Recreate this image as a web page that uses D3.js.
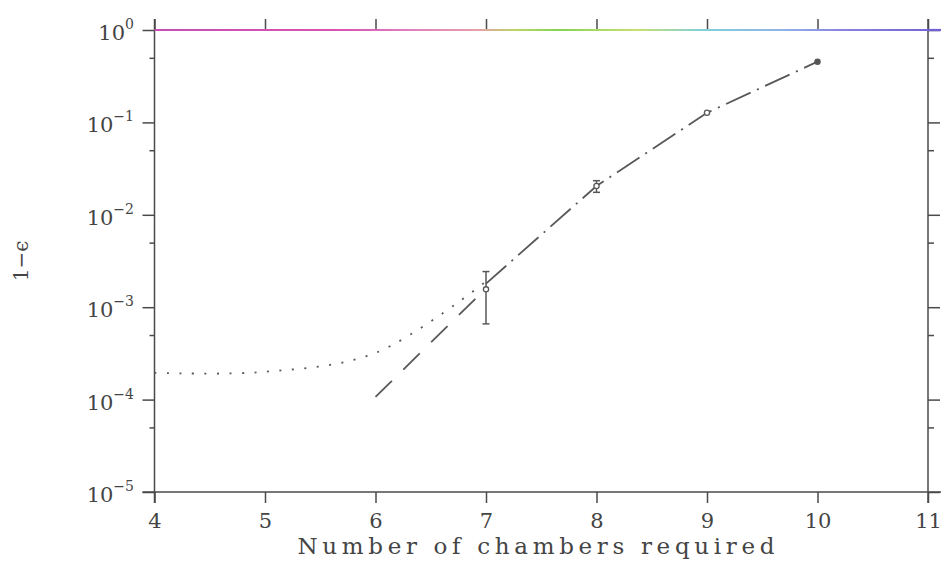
<!DOCTYPE html>
<html><head><meta charset="utf-8">
<script src="https://cdn.jsdelivr.net/npm/d3@7"></script>
<style>body{margin:0;background:#fff}svg{display:block}</style>
</head><body>
<script>
// ---- data ----
const xTicks = [4,5,6,7,8,9,10,11];
const yTickExps = [0,-1,-2,-3,-4,-5];
// dotted curve
const dottedX = [4,5,6,7];
const dottedY = [1.95e-4,2.0e-4,3.2e-4,1.9e-3];
// long dashed line
const dashedX = [6,7];
const dashedY = [1.07e-4,1.6e-3];
// dash-dot line
const dashDotX = [7,8,9,10];
const dashDotY = [1.8e-3,2.05e-2,0.127,0.454];
// measured points with errors
const ptX = [7,8,9,10];
const ptY = [1.56e-3,2.05e-2,0.127,0.454];
const ptLo = [6.6e-4,1.75e-2,0.127,0.454];
const ptHi = [2.43e-3,2.34e-2,0.127,0.454];
const ptFilled = [false,false,false,true];
// reference line at 1
const refX = [4,11];
const refY = [1,1];

const W=941,H=563;
const L=154.5,R=928,T=30,B=492;
const svg=d3.select("body").append("svg").attr("width",W).attr("height",H);
const x=d3.scaleLinear().domain([4,11]).range([L,R]);
const y=d3.scaleLog().domain([1e-5,1]).range([B,T]);
const axisCol="#4a4a4a", lineCol="#585858";
const font="DejaVu Serif";

// gradient for the top line
const defs=svg.append("defs");
const g=defs.append("linearGradient").attr("id","rainbow").attr("gradientUnits","userSpaceOnUse")
  .attr("x1",142).attr("x2",941).attr("y1",0).attr("y2",0);
[[0,"#c84cb4"],[0.25,"#d854b0"],[0.33,"#e07cc0"],[0.42,"#e6a0a8"],[0.47,"#b8d860"],[0.52,"#84d450"],
 [0.62,"#c8e070"],[0.7,"#80d0d8"],[0.8,"#90b4e8"],[0.88,"#8a80e0"],[1,"#7060d8"]]
 .forEach(([o,c])=>g.append("stop").attr("offset",o).attr("stop-color",c));

// axes frame
const ax=svg.append("g").attr("stroke",axisCol).attr("stroke-width",1.5).attr("fill","none");
ax.append("line").attr("x1",L).attr("x2",L).attr("y1",T-11).attr("y2",B+11);
ax.append("line").attr("x1",R).attr("x2",R).attr("y1",T-11).attr("y2",B+11);
ax.append("line").attr("x1",L-12).attr("x2",W).attr("y1",B).attr("y2",B);

// bottom axis via d3
const xAxisB=d3.axisBottom(x).tickValues(xTicks).tickSize(11).tickFormat(d3.format("d"));
const gb=svg.append("g").attr("transform",`translate(0,${B})`).call(xAxisB);
gb.select(".domain").remove();
gb.selectAll(".tick line").attr("stroke",axisCol).attr("stroke-width",1.5);
gb.selectAll(".tick text").attr("font-family",font).attr("font-size",21).attr("fill","#444").attr("dy","1.05em");
const gt=svg.append("g").attr("transform",`translate(0,${T})`).call(d3.axisTop(x).tickValues(xTicks).tickSize(11).tickFormat(""));
gt.select(".domain").remove();
gt.selectAll(".tick line").attr("stroke",axisCol).attr("stroke-width",1.5);

// y ticks
const majors=yTickExps.map(e=>Math.pow(10,e));
const minors=yTickExps.slice(1).map(e=>5*Math.pow(10,e));
const gl=svg.append("g").attr("transform",`translate(${L},0)`).call(d3.axisLeft(y).tickValues(majors).tickSize(12).tickFormat(""));
gl.select(".domain").remove();
const glm=svg.append("g").attr("transform",`translate(${L},0)`).call(d3.axisLeft(y).tickValues(minors).tickSize(5).tickFormat(""));
glm.select(".domain").remove();
const gr=svg.append("g").attr("transform",`translate(${R},0)`).call(d3.axisRight(y).tickValues(majors).tickSize(12).tickFormat(""));
gr.select(".domain").remove();
const grm=svg.append("g").attr("transform",`translate(${R},0)`).call(d3.axisRight(y).tickValues(minors).tickSize(6).tickFormat(""));
grm.select(".domain").remove();
svg.selectAll("g.tick line").attr("stroke",axisCol).attr("stroke-width",1.5);

// y tick labels 10^e
yTickExps.forEach(e=>{
  const t=svg.append("text").attr("x",134).attr("y",y(Math.pow(10,e))+10)
    .attr("text-anchor","end").attr("font-family",font).attr("fill","#444");
  t.append("tspan").attr("font-size",21).text("10");
  t.append("tspan").attr("font-size",14).attr("dy",-11).text(e===0?"0":"\u2212"+(-e));
});

// top reference line (colored)
svg.append("path").datum(refX.map((d,i)=>[d,refY[i]]))
  .attr("d",d3.line().x(d=>x(d[0])).y(d=>y(d[1])))
  .attr("stroke","url(#rainbow)").attr("stroke-width",2.2).attr("fill","none");
svg.append("line").attr("x1",R).attr("x2",W).attr("y1",T).attr("y2",T).attr("stroke","#7060d8").attr("stroke-width",2.2);

// curves
svg.append("path").datum(dottedX.map((d,i)=>[d,dottedY[i]]))
  .attr("d",d3.line().x(d=>x(d[0])).y(d=>y(d[1])).curve(d3.curveCatmullRom.alpha(0.5))).attr("fill","none").attr("stroke",lineCol)
  .attr("stroke-width",1.8).attr("stroke-dasharray","2,10.5");
svg.append("path").datum(dashedX.map((d,i)=>[d,dashedY[i]]))
  .attr("d",d3.line().x(d=>x(d[0])).y(d=>y(d[1]))).attr("fill","none").attr("stroke",lineCol)
  .attr("stroke-width",1.8).attr("stroke-dasharray","23,16");
svg.append("path").datum(dashDotX.map((d,i)=>[d,dashDotY[i]]))
  .attr("d",d3.line().x(d=>x(d[0])).y(d=>y(d[1]))).attr("fill","none").attr("stroke",lineCol)
  .attr("stroke-width",1.8).attr("stroke-dasharray","27,7,2,7");

// error bars and points
const pts=ptX.map((d,i)=>({x:d,y:ptY[i],lo:ptLo[i],hi:ptHi[i],f:ptFilled[i]}));
const eb=svg.append("g").attr("stroke",lineCol).attr("stroke-width",1.5);
pts.filter(p=>p.hi>p.lo).forEach(p=>{
  eb.append("line").attr("x1",x(p.x)).attr("x2",x(p.x)).attr("y1",y(p.lo)).attr("y2",y(p.hi));
  eb.append("line").attr("x1",x(p.x)-3.5).attr("x2",x(p.x)+3.5).attr("y1",y(p.lo)).attr("y2",y(p.lo));
  eb.append("line").attr("x1",x(p.x)-3.5).attr("x2",x(p.x)+3.5).attr("y1",y(p.hi)).attr("y2",y(p.hi));
});
svg.append("g").selectAll("circle").data(pts).join("circle")
  .attr("cx",d=>x(d.x)).attr("cy",d=>y(d.y)).attr("r",2.6)
  .attr("fill",d=>d.f?"#555":"#fff").attr("stroke",lineCol).attr("stroke-width",1.3);

// titles
svg.append("text").attr("x",536).attr("y",554).attr("text-anchor","middle")
  .attr("font-family",font).attr("font-size",23).attr("fill","#444")
  .attr("textLength",477).attr("lengthAdjust","spacing").text("Number of chambers required");
svg.append("text").attr("transform","translate(28,261) rotate(-90)").attr("text-anchor","middle")
  .attr("font-family",font).attr("font-size",20).attr("fill","#444").text("1\u2212\u03f5");
</script>
</body></html>
